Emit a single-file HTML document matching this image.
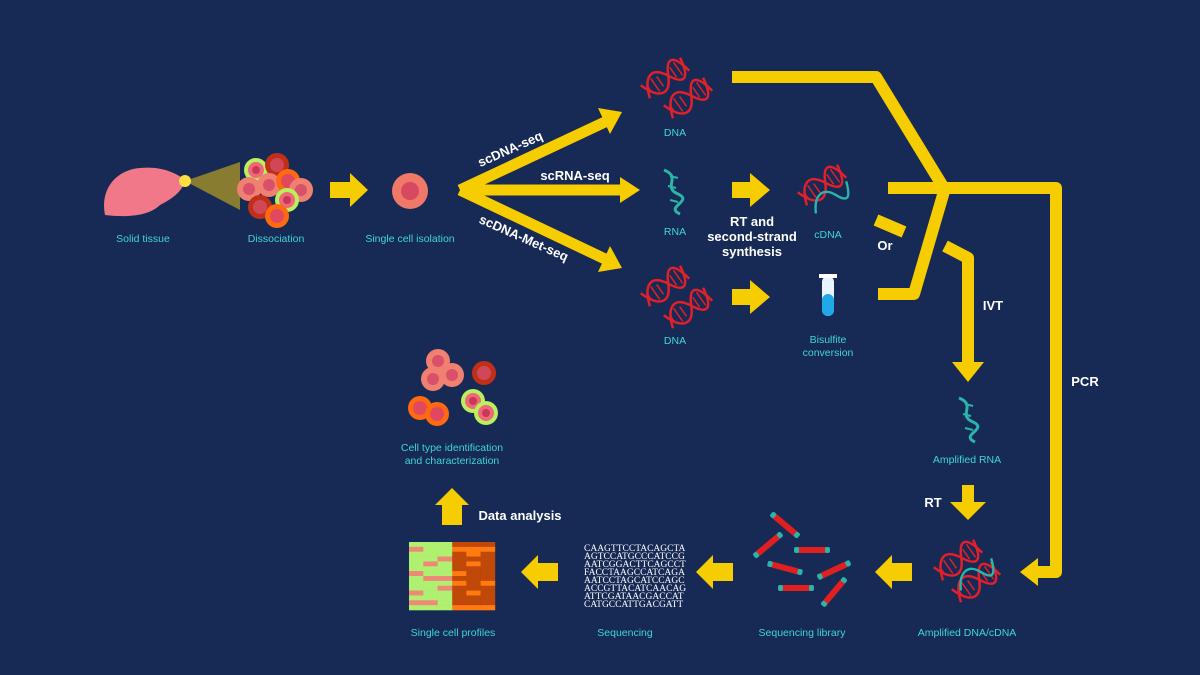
<!DOCTYPE html>
<html><head><meta charset="utf-8"><style>
html,body{margin:0;padding:0;background:#172955;}
svg{display:block}
.lbl{font-family:"Liberation Sans",sans-serif;font-size:10.5px;fill:#3fd8d2;text-anchor:middle}
.wt{font-family:"Liberation Sans",sans-serif;font-size:13px;font-weight:bold;fill:#fff;text-anchor:middle}
.seq{font-family:"Liberation Serif",serif;font-size:9.5px;fill:#fff}
</style></head><body>
<svg width="1200" height="675" viewBox="0 0 1200 675">
<defs>
<g id="dna0">
<path d="M-24,8 C-16,-16 -4,-16 4,0 S20,16 24,-8" fill="none" stroke="#e0202a" stroke-width="2.5"/>
<path d="M-24,-8 C-16,16 -4,16 4,0 S20,-16 24,8" fill="none" stroke="#e0202a" stroke-width="2.5"/>
<g stroke="#e0202a" stroke-width="1.5"><line x1="-19" y1="-5" x2="-19" y2="5"/><line x1="-12" y1="-8" x2="-12" y2="8"/><line x1="-6" y1="-6" x2="-6" y2="6"/><line x1="10" y1="-6" x2="10" y2="6"/><line x1="16" y1="-8" x2="16" y2="8"/></g>
</g>
<g id="dna"><use href="#dna0" transform="rotate(-35)"/></g>
<g id="rna"><path d="M-8,-22 C10,-15 -10,-5 6,2 S-8,15 8,22" fill="none" stroke="#2bb5a8" stroke-width="3"/>
<g stroke="#2bb5a8" stroke-width="2"><line x1="-2" y1="-16" x2="6" y2="-14"/><line x1="-4" y1="-6" x2="4" y2="-4"/><line x1="-2" y1="8" x2="6" y2="10"/></g></g>
<g id="cell"><circle r="12" fill="#f08070"/><circle r="6" fill="#d8506a"/></g>
<g id="cellG"><circle r="12" fill="#b8f060"/><circle r="8" fill="#f06878"/><circle r="4" fill="#c83858"/></g>
<g id="cellD"><circle r="12" fill="#c03018"/><circle r="7" fill="#d04858"/></g>
<g id="cellO"><circle r="12" fill="#ff6a10"/><circle r="7" fill="#e04860"/></g>
<g id="rod"><rect x="-16" y="-3" width="32" height="6" rx="3" fill="#e02020"/><rect x="-18" y="-3" width="5" height="6" rx="2" fill="#2bb5a8"/><rect x="13" y="-3" width="5" height="6" rx="2" fill="#2bb5a8"/></g>
</defs>

<g>
<path d="M105,215 C100,190 115,170 140,168 C160,166 175,172 185,180 C183,192 170,200 160,205 C150,215 130,218 105,215Z" fill="#f07888"/>
<polygon points="185,181 240,162 240,210" fill="#b8a020" opacity="0.7"/>
<circle cx="185" cy="181" r="6" fill="#ffe040"/>
</g>
<text class="lbl" x="143" y="242">Solid tissue</text>

<g>
<use href="#cellG" x="256" y="170"/><use href="#cellD" x="277" y="165"/><use href="#cell" x="249" y="189"/><use href="#cell" x="269" y="185"/><use href="#cellO" x="288" y="181"/><use href="#cell" x="301" y="190"/><use href="#cellD" x="260" y="207"/><use href="#cellG" x="287" y="200"/><use href="#cellO" x="277" y="216"/>
</g>
<text class="lbl" x="276" y="242">Dissociation</text>

<polygon points="330,182 350,182 350,173 368,190 350,207 350,198 330,198" fill="#f6cd00"/>
<g><circle cx="410" cy="191" r="18" fill="#f07868"/><circle cx="410" cy="191" r="9" fill="#d84860"/></g>
<text class="lbl" x="410" y="242">Single cell isolation</text>

<g fill="none" stroke="#f6cd00" stroke-width="11" stroke-linejoin="round">
<path d="M460,190 L605,122"/><path d="M460,190 L622,190"/><path d="M460,190 L605,259"/>
</g>
<g fill="#f6cd00">
<polygon points="598,108 622,112 610,134"/><polygon points="620,177 640,190 620,203"/><polygon points="610,246 622,268 598,272"/>
</g>
<text class="wt" x="512" y="153" transform="rotate(-24 512 153)">scDNA-seq</text>
<text class="wt" x="575" y="180">scRNA-seq</text>
<text class="wt" x="522" y="242" transform="rotate(24 522 242)">scDNA-Met-seq</text>

<g><use href="#dna" x="665" y="78"/><use href="#dna" x="688" y="98"/></g>
<text class="lbl" x="675" y="136">DNA</text>
<use href="#rna" x="672" y="192"/>
<text class="lbl" x="675" y="235">RNA</text>
<g><use href="#dna" x="665" y="286"/><use href="#dna" x="688" y="308"/></g>
<text class="lbl" x="675" y="344">DNA</text>

<polygon points="732,182 750,182 750,173 770,190 750,207 750,198 732,198" fill="#f6cd00"/>
<polygon points="732,289 750,289 750,280 770,297 750,314 750,305 732,305" fill="#f6cd00"/>
<text class="wt" x="752" y="226">RT and</text>
<text class="wt" x="752" y="241">second-strand</text>
<text class="wt" x="752" y="256">synthesis</text>

<g><use href="#dna" x="822" y="185"/><g transform="translate(830,198) rotate(-30) scale(0.8)"><path d="M-25,8 C-15,-15 0,-15 8,0 S22,15 28,-8" fill="none" stroke="#2bb5a8" stroke-width="3"/></g></g>
<text class="lbl" x="828" y="238">cDNA</text>
<g><rect x="822" y="276" width="12" height="40" rx="6" fill="#e8f4ff"/><rect x="822" y="294" width="12" height="22" rx="6" fill="#20a8e8"/><rect x="819" y="274" width="18" height="4" fill="#fff"/></g>
<text class="lbl" x="828" y="343">Bisulfite</text>
<text class="lbl" x="828" y="356">conversion</text>

<g fill="none" stroke="#f6cd00" stroke-width="12" stroke-linejoin="round">
<path d="M732,77 L876,77 L942,185"/>
<path d="M888,188 L1056,188 L1056,572 L1035,572"/>
<path d="M945,188 L914,294 L878,294"/>
<path d="M876,220 L904,232"/>
<path d="M945,246 L968,258 L968,365"/>
<path d="M968,485 L968,505"/>
</g>
<polygon points="1038,558 1020,572 1038,586" fill="#f6cd00"/>
<polygon points="952,362 984,362 968,382" fill="#f6cd00"/>
<polygon points="950,502 986,502 968,520" fill="#f6cd00"/>
<text class="wt" x="885" y="250">Or</text>
<text class="wt" x="993" y="310">IVT</text>
<text class="wt" x="1085" y="386">PCR</text>
<text class="wt" x="933" y="507">RT</text>

<use href="#rna" x="967" y="420"/>
<text class="lbl" x="967" y="463">Amplified RNA</text>
<g><use href="#dna" x="958" y="560"/><use href="#dna" x="976" y="582"/><g transform="translate(975,575) rotate(-30) scale(0.8)"><path d="M-25,8 C-15,-15 0,-15 8,0 S22,15 28,-8" fill="none" stroke="#2bb5a8" stroke-width="3"/></g></g>
<text class="lbl" x="967" y="636">Amplified DNA/cDNA</text>

<polygon points="912,563 892,563 892,555 875,572 892,589 892,581 912,581" fill="#f6cd00"/>
<polygon points="733,563 713,563 713,555 696,572 713,589 713,581 733,581" fill="#f6cd00"/>
<polygon points="558,563 538,563 538,555 521,572 538,589 538,581 558,581" fill="#f6cd00"/>

<g>
<use href="#rod" transform="translate(785,525) rotate(40)"/><use href="#rod" transform="translate(768,545) rotate(-40)"/><use href="#rod" transform="translate(812,550)"/><use href="#rod" transform="translate(785,568) rotate(15)"/><use href="#rod" transform="translate(834,570) rotate(-25)"/><use href="#rod" transform="translate(796,588)"/><use href="#rod" transform="translate(834,592) rotate(-50)"/>
</g>
<text class="lbl" x="802" y="636">Sequencing library</text>

<g>
<text class="seq" x="584" y="551">CAAGTTCCTACAGCTA</text>
<text class="seq" x="584" y="559">AGTCCATGCCCATCCG</text>
<text class="seq" x="584" y="567">AATCGGACTTCAGCCT</text>
<text class="seq" x="584" y="575">FACCTAAGCCATCAGA</text>
<text class="seq" x="584" y="583">AATCCTAGCATCCAGC</text>
<text class="seq" x="584" y="591">ACCGTTACATCAACAG</text>
<text class="seq" x="584" y="599">ATTCGATAACGACCAT</text>
<text class="seq" x="584" y="607">CATGCCATTGACGATT</text>
</g>
<text class="lbl" x="625" y="636">Sequencing</text>

<g id="heat"></g>
<text class="lbl" x="453" y="636">Single cell profiles</text>

<polygon points="442,525 442,505 435,505 452,488 469,505 462,505 462,525" fill="#f6cd00"/>
<text class="wt" x="520" y="520">Data analysis</text>

<g>
<use href="#cell" x="438" y="361"/><use href="#cell" x="433" y="379"/><use href="#cell" x="452" y="375"/><use href="#cellD" x="484" y="373"/><use href="#cellO" x="420" y="408"/><use href="#cellO" x="437" y="414"/><use href="#cellG" x="473" y="401"/><use href="#cellG" x="486" y="413"/>
</g>
<text class="lbl" x="452" y="451">Cell type identification</text>
<text class="lbl" x="452" y="464">and characterization</text>
</svg>
<script>
const leftRows = ["000","100","000","001","010","000","100","011","000","001","100","000","110","000"];
const rightRows = ["000","111","010","000","010","000","100","000","101","000","010","000","000","111"];
const g = document.getElementById('heat');
const ns = 'http://www.w3.org/2000/svg';
const x0 = 409, y0 = 542, h = 68, rh = h / leftRows.length, cw = 14.3;
leftRows.forEach((row, i) => {
  for (let c = 0; c < 3; c++) {
    const r = document.createElementNS(ns, 'rect');
    
    
    r.setAttribute('x', x0 + c * cw); r.setAttribute('y', y0 + i * rh);
    r.setAttribute('width', cw + 0.3); r.setAttribute('height', rh + 0.3);
    r.setAttribute('fill', row[c] === '1' ? '#f08878' : '#b0f070');
    g.appendChild(r);
    const r2 = document.createElementNS(ns, 'rect');
    
    
    r2.setAttribute('x', x0 + 43 + c * cw); r2.setAttribute('y', y0 + i * rh);
    r2.setAttribute('width', cw + 0.3); r2.setAttribute('height', rh + 0.3);
    r2.setAttribute('fill', rightRows[i][c] === '1' ? '#ff7a10' : '#c04808');
    g.appendChild(r2);
  }
});
</script>
</body></html>
